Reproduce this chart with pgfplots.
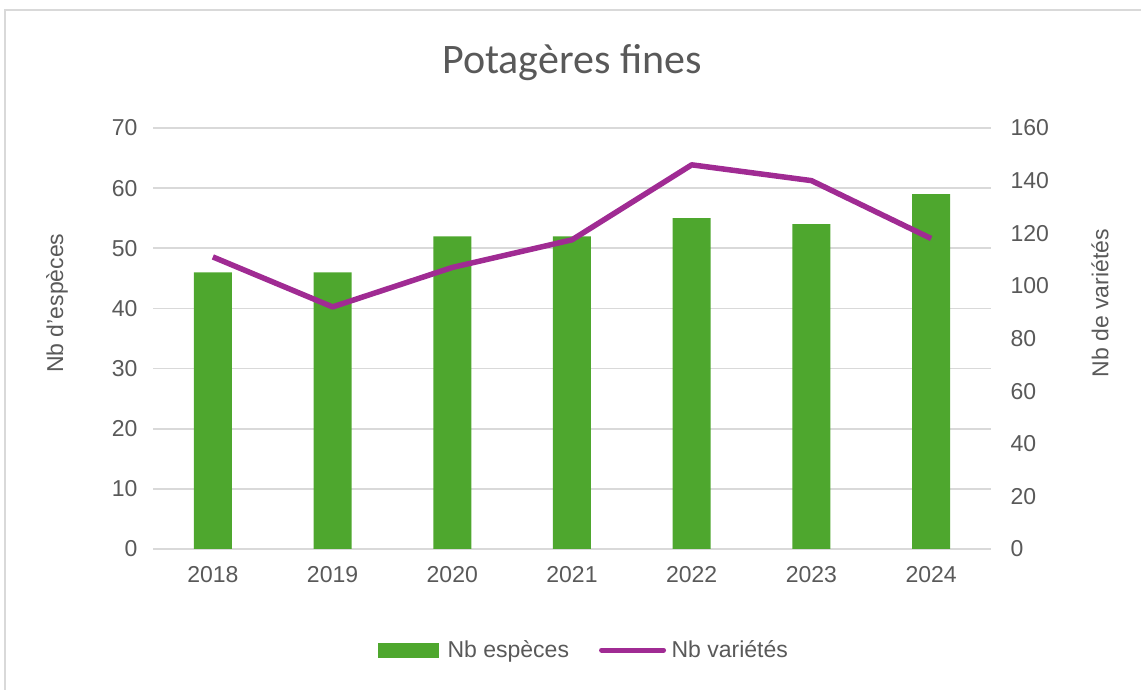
\documentclass[border=0pt]{standalone}
\usepackage{fontspec}
\setmainfont{Liberation Sans}
\newfontfamily\titlefont{Carlito}
\usepackage{pgfplots}
\pgfplotsset{compat=1.18}
\definecolor{bargreen}{HTML}{4EA72E}
\definecolor{linepurple}{HTML}{A02B93}
\definecolor{txt}{HTML}{595959}
\definecolor{gridc}{HTML}{D9D9D9}
\begin{document}
\begin{tikzpicture}
\useasboundingbox (0pt,0pt) rectangle (1141pt,690pt);
\draw[gridc, line width=1.5pt] (5pt,-20pt) -- (5pt,680pt) -- (1160pt,680pt);
\pgfplotsset{
  common/.style={
    scale only axis, width=838pt, height=421pt,
    at={(153pt,141pt)}, anchor=south west,
    xmin=-0.5, xmax=6.5,
    axis line style={draw=none},
    major tick length=0pt,
    tick label style={font=\fontsize{23}{27}\selectfont, text=txt},
    label style={font=\fontsize{23}{27}\selectfont, text=txt},
    /pgf/number format/assume math mode=true,
  }
}
\begin{axis}[common,
  ymin=0, ymax=70, ytick={0,10,...,70},
  xtick={0,...,6}, xticklabels={2018,2019,2020,2021,2022,2023,2024},
  ymajorgrids, grid style={gridc, line width=1.6pt},
  yticklabel style={anchor=east, xshift=-12pt},
  xticklabel style={anchor=center, yshift=-26pt},
  ylabel={Nb d'espèces},
  ylabel style={at={(axis description cs:-0.1146,0.584)}, anchor=center},
  title={Potagères fines},
  title style={font=\titlefont\fontsize{42}{46}\selectfont, text=txt, at={(axis description cs:0.5,1.141)}, anchor=center},
]
\addplot[ybar, bar width=38pt, fill=bargreen, draw=none] coordinates {
 (0,46) (1,46) (2,52) (3,52) (4,55) (5,54) (6,59)};
\end{axis}
\begin{axis}[common,
  ymin=0, ymax=160, ytick={0,20,...,160},
  axis y line*=right, axis x line=none,
  yticklabel style={anchor=west, xshift=16pt},
  ylabel={Nb de variétés},
  ylabel style={at={(axis description cs:1.130,0.584)}, anchor=center, rotate=0},
  legend columns=2,
  legend style={at={(axis description cs:0.514,-0.24)}, anchor=center, draw=none,
    font=\fontsize{23}{27}\selectfont, text=txt,
    /tikz/every even column/.append style={column sep=28pt}},
]
\addlegendimage{legend image code/.code={\fill[bargreen, draw=none] (0pt,-7.5pt) rectangle (61pt,7.5pt); \path[draw=none, fill=none] (0pt,0pt) -- (68pt,0pt);}}
\addlegendentry{Nb espèces}
\addplot[linepurple, line width=5.5pt, line join=round,
  legend image code/.code={\draw[linepurple, line width=5pt, line cap=round] (0pt,0pt) -- (62pt,0pt); \path[draw=none] (0pt,0pt) -- (68pt,0pt);}]
  coordinates {(0,111) (1,92) (2,107) (3,117.5) (4,146) (5,140) (6,118)};
\addlegendentry{Nb variétés}
\end{axis}
\end{tikzpicture}
\end{document}
